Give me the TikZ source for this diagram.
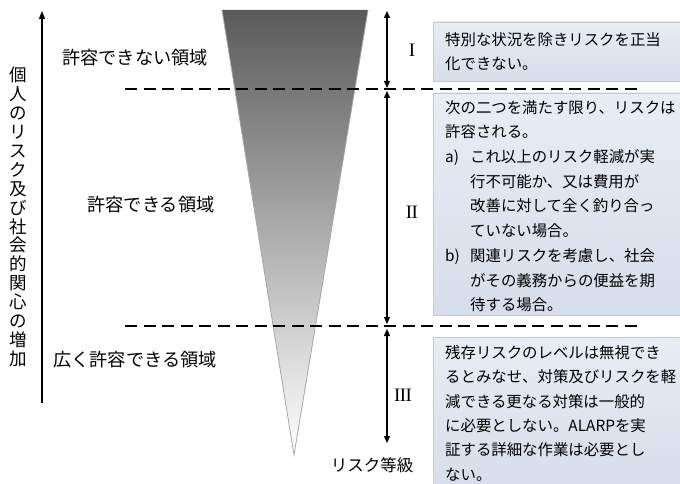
\documentclass[tikz,border=0pt]{standalone}
\usepackage{fontspec}
\setmainfont{Noto Sans CJK JP}
\newfontfamily\romanfont{Liberation Serif}
\usetikzlibrary{arrows.meta}
\definecolor{boxtop}{HTML}{E8EDF5}
\definecolor{boxbot}{HTML}{D5DEEA}
\definecolor{boxline}{HTML}{C4CAD4}
\definecolor{tridark}{HTML}{5A5A5A}
\tikzset{
  dline/.style={line width=1.4pt, dash pattern=on 12pt off 6.5pt},
  dbl/.style={line width=1.2pt, {Triangle[length=7pt,width=6pt]}-{Triangle[length=7pt,width=6pt]}},
  riskbox/.style={draw=boxline, line width=0.8pt, top color=boxtop, bottom color=boxbot},
  boxtext/.style={anchor=north west, inner sep=0pt, align=left, font=\fontsize{15.4}{24.4}\selectfont},
  zone/.style={font=\fontsize{18.2}{20}\selectfont},
  roman/.style={font=\romanfont\fontsize{19}{20}\selectfont}
}
\begin{document}
\begin{tikzpicture}[x=1pt,y=-1pt]
\useasboundingbox (0,0) rectangle (680,484);
% triangle
\coordinate (tl) at (222,10);
\coordinate (tr) at (368,10);
\coordinate (tip) at (294,455);
\shade[top color=tridark, bottom color=white] (tl) -- (tr) -- (tip) -- cycle;
\draw[gray!70, line width=0.8pt] (tl) -- (tip) -- (tr);
% left vertical arrow
\coordinate (la1) at (42,403);
\coordinate (la2) at (42,11);
\draw[line width=1.2pt, -{Triangle[length=8pt,width=6pt]}] (la1) -- (la2);
\node[align=center, font=\fontsize{17.5}{18.9}\selectfont] (vt) at (18,217)
 {個\\人\\の\\リ\\ス\\ク\\及\\び\\社\\会\\的\\関\\心\\の\\増\\加};
% zone labels
\node[zone] (z1) at (135,58) {許容できない領域};
\node[zone] (z2) at (151,205) {許容できる領域};
\node[zone] (z3) at (135,360) {広く許容できる領域};
% dashed lines
\coordinate (d1a) at (125,89); \coordinate (d1b) at (642,89);
\coordinate (d2a) at (125,326); \coordinate (d2b) at (642,326);
\draw[dline] (d1a) -- (d1b);
\draw[dline] (d2a) -- (d2b);
% right arrows
\coordinate (a1t) at (387,11); \coordinate (a1b) at (387,88);
\coordinate (a2t) at (387,91); \coordinate (a2b) at (387,324);
\coordinate (a3t) at (387,329); \coordinate (a3b) at (387,443);
\draw[dbl] (a1t) -- (a1b);
\draw[dbl] (a2t) -- (a2b);
\draw[dbl] (a3t) -- (a3b);
\node[roman] (r1) at (412,50) {I};
\node[roman] (r2) at (412,212) {I\kern-0.6ptI};
\node[roman] (r3) at (403,395) {I\kern-0.6ptI\kern-0.6ptI};
\node[font=\fontsize{16.5}{20}\selectfont] (lvl) at (372,465) {リスク等級};
% boxes
\path[riskbox] (433,22) rectangle (681,81);
\path[riskbox] (433,93) rectangle (681,315);
\path[riskbox] (433,337) rectangle (681,485);
\node[boxtext] (t1) at (445,32) {特別な状況を除きリスクを正当\\化できない。};
\node[boxtext, font=\fontsize{15.4}{24.7}\selectfont] (t2) at (445,100) {次の二つを満たす限り、リスクは\\許容される。\\
\makebox[25pt][l]{a)}これ以上のリスク軽減が実\\
\hspace*{25pt}行不可能か、又は費用が\\
\hspace*{25pt}改善に対して全く釣り合っ\\
\hspace*{25pt}ていない場合。\\
\makebox[25pt][l]{b)}関連リスクを考慮し、社会\\
\hspace*{25pt}がその義務からの便益を期\\
\hspace*{25pt}待する場合。};
\node[boxtext] (t3) at (445,345) {残存リスクのレベルは無視でき\\るとみなせ、対策及びリスクを軽\\減できる更なる対策は一般的\\に必要としない。ALARPを実\\証する詳細な作業は必要とし\\ない。};
\end{tikzpicture}
\end{document}
